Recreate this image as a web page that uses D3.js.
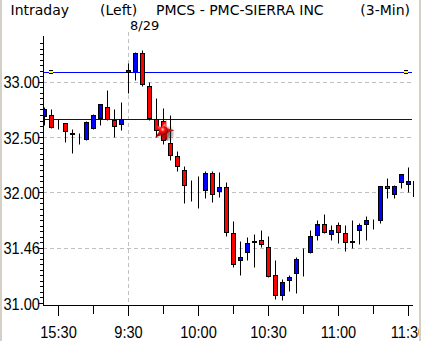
<!DOCTYPE html>
<html>
<head>
<meta charset="utf-8">
<script src="https://cdn.jsdelivr.net/npm/d3@7"></script>
<style>
    body { margin: 0; background: #fff; }
    svg { display: block; }
    .title { font-family: "DejaVu Sans", sans-serif; font-size: 14px; fill: #000; }
    .axis-label { font-family: "Liberation Sans", Arial, sans-serif; font-size: 17px; fill: #000; }
</style>
</head>
<body>
<div id="chart"></div>
<script>
// 3-minute bars, previous session tail (15:24-15:57) then 8/29 open
const times = ['15:24', '15:27', '15:30', '15:33', '15:36', '15:39', '15:42', '15:45', '15:48', '15:51', '15:54', '15:57',
    '9:30', '9:33', '9:36', '9:39', '9:42', '9:45', '9:48', '9:51', '9:54', '9:57',
    '10:00', '10:03', '10:06', '10:09', '10:12', '10:15', '10:18', '10:21', '10:24', '10:27',
    '10:30', '10:33', '10:36', '10:39', '10:42', '10:45', '10:48', '10:51', '10:54', '10:57',
    '11:00', '11:03', '11:06', '11:09', '11:12', '11:15', '11:18', '11:21', '11:24', '11:27',
    '11:30', '11:33'];
const opens = [32.695, 32.70, 32.64, 32.63, 32.54, 32.50, 32.485, 32.585, 32.675, 32.774, 32.659, 32.62,
    33.09, 33.096, 33.262, 32.96, 32.66, 32.65, 32.45, 32.333, 32.207, 32.062,
    32.033, 32.02, 32.178, 32.011, 32.05, 31.635, 31.387, 31.461, 31.562, 31.574,
    31.508, 31.249, 31.071, 31.206, 31.273, 31.429, 31.461, 31.613, 31.716, 31.626,
    31.703, 31.635, 31.56, 31.658, 31.717, 31.719, 31.746, 32.062, 31.987, 32.096,
    32.078, 32.099];
const highs = [32.768, 32.756, 32.665, 32.63, 32.57, 32.535, 32.645, 32.707, 32.80, 32.93, 32.75, 32.815,
    33.17, 33.27, 33.29, 33.00, 32.855, 32.76, 32.70, 32.37, 32.24, 32.108,
    32.145, 32.19, 32.19, 32.18, 32.096, 31.737, 31.558, 31.60, 31.62, 31.657,
    31.61, 31.387, 31.219, 31.249, 31.418, 31.499, 31.656, 31.748, 31.809, 31.705,
    31.728, 31.701, 31.746, 31.725, 31.785, 31.755, 32.062, 32.132, 32.07, 32.168,
    32.234, 32.10];
const lows = [32.605, 32.58, 32.575, 32.454, 32.357, 32.44, 32.475, 32.569, 32.605, 32.653, 32.50, 32.565,
    32.90, 33.014, 32.96, 32.653, 32.50, 32.44, 32.29, 32.19, 31.906, 31.92,
    31.86, 31.95, 31.91, 31.96, 31.604, 31.325, 31.25, 31.393, 31.324, 31.508,
    31.233, 31.032, 31.025, 31.108, 31.088, 31.242, 31.45, 31.568, 31.635, 31.574,
    31.544, 31.472, 31.493, 31.529, 31.574, 31.665, 31.725, 31.951, 31.951, 32.044,
    32.002, 31.966];
const closes = [32.750, 32.59, 32.64, 32.555, 32.53, 32.50, 32.638, 32.70, 32.795, 32.66, 32.60, 32.665,
    33.11, 33.262, 32.976, 32.672, 32.565, 32.478, 32.34, 32.235, 32.065, 32.062,
    32.033, 32.177, 31.99, 32.05, 31.644, 31.355, 31.418, 31.544, 31.554, 31.535,
    31.242, 31.071, 31.192, 31.233, 31.402, 31.429, 31.61, 31.71, 31.644, 31.662,
    31.644, 31.553, 31.552, 31.707, 31.748, 31.719, 32.062, 32.04, 32.062, 32.162,
    32.106, 31.966];

const dayStart = '9:30',
    dayLabel = '8/29';
const levelPrices = [33.09, 32.665];
const yTickValues = [31.0, 31.5, 32.0, 32.5, 33.0];
const yTickLabels = ['31.00', '31.46', '32.00', '32.50', '33.00'];
const xTickTimes = ['15:30', '15:45', '9:30', '9:45', '10:00', '10:15', '10:30', '10:45', '11:00', '11:15', '11:30'];
const xLabelTimes = ['15:30', '9:30', '10:00', '10:30', '11:00', '11:30'];
const markerTime = '9:45',
    markerPrice = 32.562;

const Width = 421, Height = 341,
    PlotLeft = 43, PlotRight = 413, PlotTop = 36, PlotBottom = 305,
    Step = 7, FirstX = 44.5, BodyWidth = 4, LabelSqueeze = 0.86,
    UpColor = '#0000ff', DownColor = '#ff0000', GridColor = '#c0c0c0';

const svg = d3.select('#chart').append('svg')
    .attr('width', Width)
    .attr('height', Height);

const x = d3.scalePoint()
    .domain(times)
    .range([FirstX, FirstX + Step * (times.length - 1)]);
const y = d3.scaleLinear()
    .domain([31, 33])
    .range([303.5, 82.3]);
const snap = v => Math.floor(y(v)) + 0.5;

const defs = svg.append('defs');
defs.append('clipPath').attr('id', 'plot-clip')
    .append('rect')
    .attr('x', PlotLeft + 0.5).attr('y', 0)
    .attr('width', PlotRight - PlotLeft + 0.5).attr('height', PlotBottom);
const grad = defs.append('radialGradient').attr('id', 'ball')
    .attr('cx', '40%').attr('cy', '35%').attr('r', '65%');
grad.append('stop').attr('offset', '0%').attr('stop-color', '#ffc0c0');
grad.append('stop').attr('offset', '40%').attr('stop-color', '#ff1010');
grad.append('stop').attr('offset', '100%').attr('stop-color', '#8a0000');
defs.append('filter').attr('id', 'blur')
    .append('feGaussianBlur').attr('stdDeviation', 2);

// grid
svg.append('g').selectAll('line')
    .data(yTickValues.filter(v => v > 31))
    .join('line')
    .attr('x1', PlotLeft).attr('x2', PlotRight)
    .attr('y1', snap).attr('y2', snap)
    .attr('stroke', GridColor)
    .attr('stroke-dasharray', '4,3');

svg.append('line')
    .attr('x1', x(dayStart)).attr('x2', x(dayStart))
    .attr('y1', 32).attr('y2', PlotBottom)
    .attr('stroke', GridColor)
    .attr('stroke-dasharray', '4,3');

// horizontal price levels
svg.append('g').selectAll('line')
    .data(levelPrices)
    .join('line')
    .attr('x1', PlotLeft).attr('x2', PlotRight - 1)
    .attr('y1', snap).attr('y2', snap)
    .attr('stroke', (d, i) => i ? '#0000d0' : '#0000ff');

[PlotLeft + 6, PlotRight - 9].forEach(px => {
    const ly = Math.floor(y(levelPrices[0]));
    svg.append('rect').attr('x', px).attr('y', ly - 2).attr('width', 4).attr('height', 4).attr('fill', '#000');
    svg.append('rect').attr('x', px).attr('y', ly - 1).attr('width', 4).attr('height', 2).attr('fill', '#ffff00');
});

// candles
const bars = times.map((t, i) => ({ t: t, o: opens[i], h: highs[i], l: lows[i], c: closes[i] }));
const candles = svg.append('g')
    .attr('clip-path', 'url(#plot-clip)')
    .selectAll('g')
    .data(bars)
    .join('g');

candles.append('line')
    .attr('x1', d => x(d.t)).attr('x2', d => x(d.t))
    .attr('y1', d => snap(d.h)).attr('y2', d => snap(d.l))
    .attr('stroke', '#000');

candles.append('rect')
    .attr('x', d => x(d.t) - BodyWidth / 2)
    .attr('width', BodyWidth)
    .attr('y', d => snap(Math.max(d.o, d.c)))
    .attr('height', d => snap(Math.min(d.o, d.c)) - snap(Math.max(d.o, d.c)))
    .attr('fill', d => d.c >= d.o ? UpColor : DownColor)
    .attr('stroke', '#000');

// marker
const mx = x(markerTime), my = y(markerPrice);
svg.append('circle')
    .attr('cx', mx + 3).attr('cy', my + 3).attr('r', 6)
    .attr('fill', '#333').attr('opacity', 0.7)
    .attr('filter', 'url(#blur)');
svg.append('path')
    .attr('transform', `translate(${mx},${my}) rotate(15)`)
    .attr('d', d3.symbol(d3.symbolStar, 130)())
    .attr('fill', 'url(#ball)');
svg.append('circle')
    .attr('cx', mx).attr('cy', my).attr('r', 4.5)
    .attr('fill', 'url(#ball)');

// y axis
const yAxis = svg.append('g');
yAxis.append('line')
    .attr('x1', PlotLeft + 0.5).attr('x2', PlotLeft + 0.5)
    .attr('y1', PlotTop).attr('y2', PlotBottom + 1)
    .attr('stroke', '#000');
yAxis.selectAll('.minor')
    .data(d3.range(0, 48).map(i => 31 + i * 0.05))
    .join('line')
    .attr('class', 'minor')
    .attr('x1', PlotLeft - 3).attr('x2', PlotLeft)
    .attr('y1', snap).attr('y2', snap)
    .attr('stroke', '#000');
yAxis.selectAll('.major')
    .data(yTickValues)
    .join('line')
    .attr('class', 'major')
    .attr('x1', PlotLeft - 5).attr('x2', PlotLeft)
    .attr('y1', snap).attr('y2', snap)
    .attr('stroke', '#000');
yAxis.selectAll('text')
    .data(yTickValues)
    .join('text')
    .attr('class', 'axis-label')
    .attr('text-anchor', 'end')
    .attr('transform', d => `translate(${PlotLeft - 3},${y(d) + 6}) scale(${LabelSqueeze},1)`)
    .text((d, i) => yTickLabels[i]);

// x axis
const xAxis = svg.append('g');
xAxis.append('line')
    .attr('x1', PlotLeft).attr('x2', PlotRight)
    .attr('y1', PlotBottom + 0.5).attr('y2', PlotBottom + 0.5)
    .attr('stroke', '#000');
xAxis.selectAll('line.tick')
    .data(xTickTimes)
    .join('line')
    .attr('class', 'tick')
    .attr('x1', d => x(d)).attr('x2', d => x(d))
    .attr('y1', PlotBottom)
    .attr('y2', d => PlotBottom + (xLabelTimes.includes(d) ? 11 : 9))
    .attr('stroke', '#000');
xAxis.selectAll('text')
    .data(xLabelTimes)
    .join('text')
    .attr('class', 'axis-label')
    .attr('text-anchor', 'middle')
    .attr('transform', d => `translate(${x(d)},337.5) scale(${LabelSqueeze},1)`)
    .text(d => d);

// titles
const title = svg.append('g').attr('class', 'title');
title.append('text').attr('x', 10.5).attr('y', 15).text('Intraday');
title.append('text').attr('x', 100).attr('y', 15).text('(Left)');
title.append('text').attr('x', 156).attr('y', 15).text('PMCS - PMC-SIERRA INC');
title.append('text').attr('x', 410).attr('y', 15).attr('text-anchor', 'end').text('(3-Min)');
title.append('text').attr('x', 130).attr('y', 30).style('font-size', '13px').text(dayLabel);

// window frame edges
svg.append('rect').attr('x', 0).attr('y', 0).attr('width', 2).attr('height', Height).attr('fill', '#d4d0c8');
svg.append('rect').attr('x', Width - 2).attr('y', 0).attr('width', 2).attr('height', Height).attr('fill', '#d4d0c8');
</script>
</body>
</html>
